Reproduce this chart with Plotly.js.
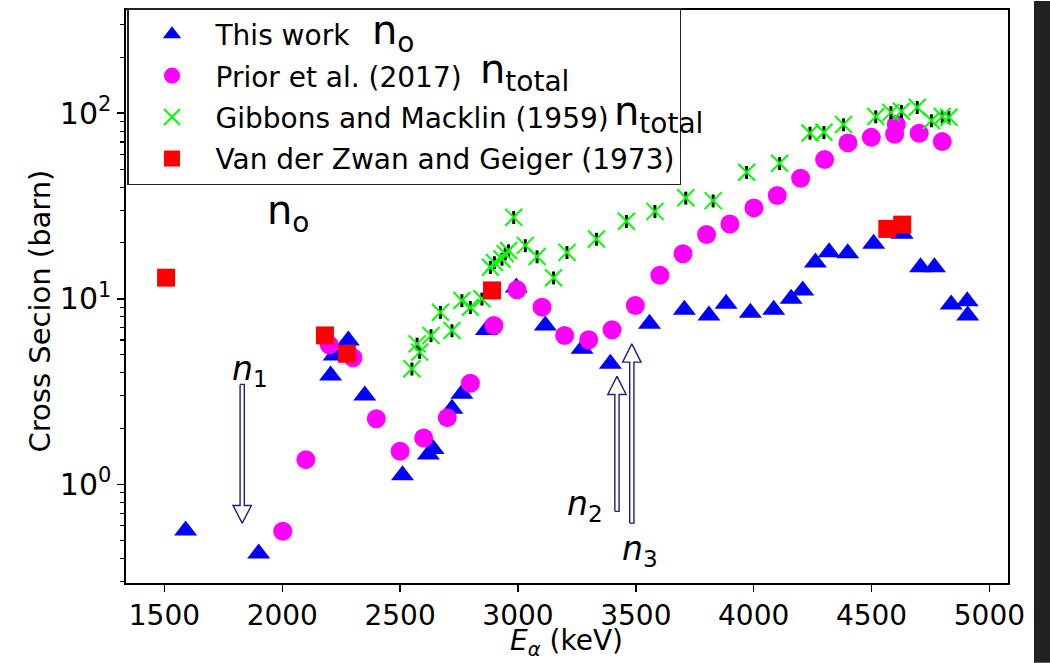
<!DOCTYPE html>
<html>
<head>
<meta charset="utf-8">
<script src="https://cdn.plot.ly/plotly-3.0.1.min.js"></script>
<style>html,body{margin:0;padding:0;background:#fff;}#chart{width:1050px;height:663px;}</style>
</head>
<body>
<div id="chart"></div>
<script>
// ---- Data ----
const thisWorkX = [1590, 1900, 2205, 2220, 2280, 2350, 2510, 2620, 2640, 2720, 2762, 2866, 2993, 3116, 3272, 3392, 3558, 3706, 3810, 3883, 3986, 4085, 4159, 4208, 4262, 4320, 4399, 4509, 4630, 4708, 4767, 4838, 4906, 4908];
const thisWorkY = [0.565, 0.425, 3.86, 4.95, 5.96, 3.01, 1.12, 1.45, 1.55, 2.56, 3.08, 6.8, 11.5, 7.18, 5.38, 4.47, 7.33, 8.73, 8.13, 9.4, 8.41, 8.73, 10.0, 11.1, 15.7, 17.8, 17.6, 19.8, 22.4, 14.8, 14.8, 9.31, 9.7, 8.13];

const priorX = [2002, 2100, 2199, 2300, 2399, 2500, 2600, 2700, 2798, 2898, 2996, 3102, 3198, 3300, 3399, 3498, 3602, 3700, 3800, 3899, 4001, 4100, 4199, 4301, 4400, 4499, 4598, 4605, 4702, 4800];
const priorY = [0.56, 1.36, 5.65, 4.81, 2.26, 1.51, 1.78, 2.29, 3.51, 7.18, 11.2, 9.02, 6.35, 6.02, 6.81, 9.2, 13.4, 17.5, 22.2, 25.3, 30.9, 36.0, 44.6, 56.3, 69.2, 74.1, 77, 87, 78, 70.3];

const gibbonsX = [2550, 2572, 2583, 2631, 2671, 2720, 2762, 2798, 2847, 2883, 2900, 2932, 2946, 2960, 2982, 3031, 3081, 3151, 3208, 3333, 3460, 3581, 3712, 3828, 3970, 4110, 4239, 4298, 4381, 4518, 4582, 4627, 4694, 4754, 4800, 4828];
const gibbonsY = [4.2, 5.72, 5.16, 6.35, 8.47, 6.75, 9.8, 9.0, 10.0, 14.8, 15.7, 16.4, 17.5, 18.2, 27.5, 19.4, 16.9, 13.0, 17.8, 21.0, 26.2, 29.6, 35.0, 33.8, 48.1, 53.7, 78.3, 78.9, 86.9, 95.9, 101, 102.4, 107.6, 91.3, 95.9, 95.1];
const gibbonsErrPct = 8;

const vdzX = [1507, 2181, 2274, 2890, 4567, 4630];
const vdzY = [13.0, 6.35, 5.06, 11.1, 23.8, 25.1];

const seriesNames = ['This work', 'Prior et al. (2017)', 'Gibbons and Macklin (1959)', 'Van der Zwan and Geiger (1973)'];

// Level arrows (n1 points down, n2/n3 point up)
const arrowX = [1830, 3420, 3483];
const arrowTail = [3.46, 0.716, 0.619];
const arrowTip = [0.619, 3.82, 5.72];
const arrowHeadBase = [0.77, 3.05, 4.56];

const xTickVals = [1500, 2000, 2500, 3000, 3500, 4000, 4500, 5000];
const yTickVals = [1, 10, 100];
const yTickText = ['10<sup>0</sup>', '10<sup>1</sup>', '10<sup>2</sup>'];

const xTitle = '<i>E</i><sub><i>α</i></sub> (keV)';
const yTitle = 'Cross Secion (barn)';

// ---- Build ----
const FONT = 'DejaVu Sans';
const shaftHalf = 9, headHalf = 39;
const traces = [];
for (let i = 0; i < arrowX.length; i++) {
  const x = arrowX[i];
  traces.push({
    type: 'scatter', mode: 'lines', showlegend: false, hoverinfo: 'skip',
    x: [x - shaftHalf, x - shaftHalf, x - headHalf, x, x + headHalf, x + shaftHalf, x + shaftHalf, x - shaftHalf],
    y: [arrowTail[i], arrowHeadBase[i], arrowHeadBase[i], arrowTip[i], arrowHeadBase[i], arrowHeadBase[i], arrowTail[i], arrowTail[i]],
    fill: 'toself', fillcolor: '#ffffff',
    line: {color: '#1f1f78', width: 1.4}
  });
}
traces.push({
  type: 'scatter', mode: 'markers', name: seriesNames[0], legendgroup: 'a',
  x: thisWorkX, y: thisWorkY,
  marker: {symbol: 'triangle-up', size: 20, color: '#0000ff'}
});
traces.push({
  type: 'scatter', mode: 'markers', name: seriesNames[1], legendgroup: 'b',
  x: priorX, y: priorY,
  marker: {symbol: 'circle', size: 19, color: '#ff00ff'}
});
traces.push({
  type: 'scatter', mode: 'markers', name: seriesNames[2], legendgroup: 'c',
  x: gibbonsX, y: gibbonsY,
  error_y: {type: 'percent', value: gibbonsErrPct, color: '#000000', thickness: 3, width: 0},
  marker: {symbol: 'x-thin-open', size: 17, color: '#00ff00', line: {color: '#00ff00', width: 2}}
});
traces.push({
  type: 'scatter', mode: 'markers', name: seriesNames[3], legendgroup: 'd',
  x: vdzX, y: vdzY,
  marker: {symbol: 'square', size: 18, color: '#ff0000'}
});

// minor log ticks
const minorVals = [];
for (let d = -1; d <= 2; d++) for (let m = 2; m <= 9; m++) minorVals.push(m * Math.pow(10, d));

const L = 126, T = 9, W = 882, H = 574;
const px = v => (v - L) / W;
const py = v => (T + H - v) / H;

function ann(text, x, y, size, xanchor, angle) {
  return {text: text, xref: 'paper', yref: 'paper', x: px(x), y: py(y), xanchor: xanchor || 'left', yanchor: 'middle',
          textangle: angle || 0, showarrow: false, font: {family: FONT, size: size, color: '#000'}};
}

const layout = {
  width: 1050, height: 663,
  margin: {l: L, r: 1050 - L - W, t: T, b: 663 - T - H},
  paper_bgcolor: '#ffffff', plot_bgcolor: '#ffffff',
  font: {family: FONT, size: 28, color: '#000'},
  showlegend: true,
  legend: {
    x: px(127), y: py(8), xanchor: 'left', yanchor: 'top',
    bgcolor: 'rgba(255,255,255,0.85)', bordercolor: '#222', borderwidth: 1.5,
    font: {family: FONT, size: 28, color: '#000'},
    traceorder: 'grouped', tracegroupgap: 2, itemwidth: 77
  },
  xaxis: {
    range: [1337, 5079], tickmode: 'array', tickvals: xTickVals,
    ticks: 'outside', ticklen: 7, tickwidth: 1.5, tickcolor: '#000',
    showline: true, mirror: true, linecolor: '#000', linewidth: 1.6,
    showgrid: false, zeroline: false,
    tickfont: {family: FONT, size: 28, color: '#000'}
  },
  yaxis: {
    type: 'log', range: [-0.531, 2.556], tickmode: 'array', tickvals: yTickVals, ticktext: yTickText,
    ticks: 'outside', ticklen: 7, tickwidth: 1.5, tickcolor: '#000',
    minor: {tickmode: 'array', tickvals: minorVals, ticks: 'outside', ticklen: 4, tickwidth: 1.1, tickcolor: '#000', showgrid: false},
    showline: true, mirror: true, linecolor: '#000', linewidth: 1.6,
    showgrid: false, zeroline: false,
    tickfont: {family: FONT, size: 30, color: '#000'}
  },
  annotations: [
    ann(xTitle, 566, 643, 28, 'center'),
    ann(yTitle, 40, 311, 29, 'center', -90),
    ann('n<sub>o</sub>', 370, 32, 40),
    ann('n<sub>total</sub>', 478, 71, 40),
    ann('n<sub>total</sub>', 612, 113, 40),
    ann('n<sub>o</sub>', 265, 212, 40),
    ann('<i>n</i><sub>1</sub>', 230, 370, 33),
    ann('<i>n</i><sub>2</sub>', 565, 505, 33),
    ann('<i>n</i><sub>3</sub>', 620, 550, 33)
  ],
  shapes: [
    {type: 'rect', xref: 'paper', yref: 'paper', x0: px(1034), x1: px(1050), y0: py(663), y1: py(0),
     fillcolor: '#222222', line: {width: 0}, layer: 'below'}
  ]
};

Plotly.newPlot('chart', traces, layout, {staticPlot: true, displayModeBar: false});
</script>
</body>
</html>
